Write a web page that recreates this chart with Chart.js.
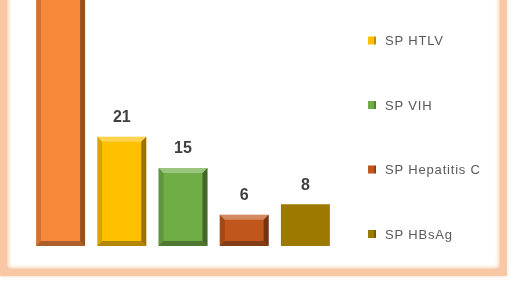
<!DOCTYPE html>
<html>
<head>
<meta charset="utf-8">
<script src="https://cdn.jsdelivr.net/npm/chart.js"></script>
<style>
html, body { margin: 0; padding: 0; width: 513px; height: 282px; overflow: hidden; background: #fff; }
#frame {
    position: absolute; left: 0; top: -80px; width: 507px; height: 356px;
    box-sizing: border-box; border: 7px solid #F9C7A3;
    box-shadow: inset 0 0 5px #F2A46C, 0 0 4px #FBD9C0;
}
#chart { position: absolute; left: 0; top: -60px; }
</style>
</head>
<body>
<div id="frame"></div>
<canvas id="chart" width="513" height="342"></canvas>
<script>
// the top of the original chart is cropped: the first bar and legend entry run off the picture
var categories = ['SP Sífilis', 'SP HTLV', 'SP VIH', 'SP Hepatitis C', 'SP HBsAg'];
var values = [50, 21, 15, 6, 8];
var colors = ['#F7883A', '#FFC000', '#70AD47', '#C0561B', '#9C7A00'];
var yMax = 53;

// bevelled look of the Excel bars
var bevelPlugin = {
    id: 'bevel',
    afterDatasetsDraw(chart) {
        var ctx = chart.ctx;
        var area = chart.chartArea;
        ctx.save();
        ctx.beginPath();
        ctx.rect(area.left, area.top, area.right - area.left, area.bottom - area.top);
        ctx.clip();
        chart.getDatasetMeta(0).data.forEach((bar, i) => {
            if (i === 4) return; // last bar is flat
            var p = bar.getProps(['x', 'y', 'base', 'width'], true);
            var l = p.x - p.width / 2, r = p.x + p.width / 2, t = p.y, b = p.base, s = 5;
            var poly = (pts, fill) => {
                ctx.beginPath();
                ctx.moveTo(pts[0][0], pts[0][1]);
                pts.slice(1).forEach(q => ctx.lineTo(q[0], q[1]));
                ctx.closePath();
                ctx.fillStyle = fill;
                ctx.fill();
            };
            poly([[l, t], [r, t], [r - s, t + s], [l + s, t + s]], 'rgba(255,255,255,0.3)');
            poly([[l, t], [l + s, t + s], [l + s, b - s], [l, b]], 'rgba(0,0,0,0.15)');
            poly([[r, t], [r, b], [r - s, b - s], [r - s, t + s]], 'rgba(0,0,0,0.4)');
            poly([[l, b], [l + s, b - s], [r - s, b - s], [r, b]], 'rgba(0,0,0,0.3)');
        });
        ctx.restore();
    }
};

// value labels above bars
var labelPlugin = {
    id: 'valueLabels',
    afterDatasetsDraw(chart) {
        var ctx = chart.ctx;
        ctx.save();
        ctx.font = 'bold 16px "Liberation Sans Narrow", "Liberation Sans", Arial, sans-serif';
        ctx.fillStyle = '#404040';
        ctx.textAlign = 'center';
        ctx.textBaseline = 'bottom';
        chart.getDatasetMeta(0).data.forEach((bar, i) => {
            ctx.fillText(values[i], bar.x, bar.y - 11);
        });
        ctx.restore();
    }
};

// legend on the right, one entry per category
var legendPlugin = {
    id: 'sideLegend',
    afterDraw(chart) {
        var ctx = chart.ctx;
        var area = chart.chartArea;
        var n = categories.length;
        ctx.save();
        ctx.font = '13px "Liberation Sans Narrow", "Liberation Sans", Arial, sans-serif';
        ctx.letterSpacing = '0.8px';
        ctx.textBaseline = 'middle';
        categories.forEach((name, i) => {
            var cy = area.bottom - 12 - (n - 1 - i) * 64.5;
            var bx = area.right + 32;
            ctx.fillStyle = colors[i];
            ctx.fillRect(bx, cy - 4, 8, 8);
            ctx.fillStyle = 'rgba(0,0,0,0.25)';
            ctx.fillRect(bx + 6, cy - 4, 2, 8);
            ctx.fillStyle = '#595959';
            ctx.fillText(name, bx + 17, cy + 1);
        });
        ctx.restore();
    }
};

var chart = new Chart(document.getElementById('chart').getContext('2d'), {
    type: 'bar',
    data: {
        labels: categories,
        datasets: [{
            data: values,
            backgroundColor: colors,
            borderWidth: 0,
            categoryPercentage: 1,
            barPercentage: 0.8
        }]
    },
    options: {
        responsive: false,
        animation: false,
        layout: { padding: { left: 30, right: 177, top: 30, bottom: 36 } },
        scales: {
            x: { display: false },
            y: { display: false, min: 0, max: yMax }
        },
        plugins: {
            legend: { display: false },
            tooltip: { enabled: false }
        }
    },
    plugins: [bevelPlugin, labelPlugin, legendPlugin]
});
</script>
</body>
</html>
